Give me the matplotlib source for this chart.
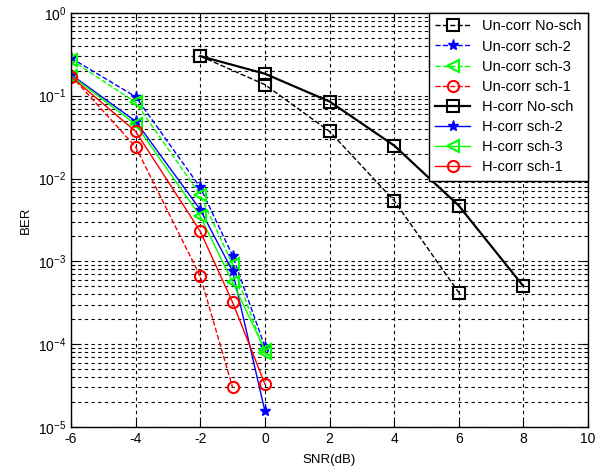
import numpy as np
import matplotlib.pyplot as plt
from matplotlib.ticker import LogLocator, LogFormatterMathtext, NullFormatter

plt.rcParams['font.family'] = 'Liberation Sans'
plt.rcParams['mathtext.default'] = 'regular'
plt.rcParams['axes.unicode_minus'] = False
plt.rcParams['font.size'] = 9.5

# SNR points
snr_sch = [-6, -4, -2, -1, 0]
snr_sch1 = [-6, -4, -2, -1]
snr_nosch_u = [-2, 0, 2, 4, 6]
snr_nosch_h = [-2, 0, 2, 4, 6, 8]

# uncorrelated channel BER
ber_u_nosch = [0.30, 0.136, 0.037, 0.0054, 4.2e-4]
ber_u_sch2 = [0.285, 0.097, 0.0078, 1.17e-3, 9.3e-5]
ber_u_sch3 = [0.27, 0.083, 0.0063, 9.2e-4, 7.8e-5]
ber_u_sch1 = [0.175, 0.024, 6.6e-4, 3.0e-5]

# H-correlated channel BER
ber_h_nosch = [0.30, 0.184, 0.085, 0.025, 0.0047, 5.0e-4]
ber_h_sch2 = [0.18, 0.049, 0.0042, 7.6e-4, 1.55e-5]
ber_h_sch3 = [0.175, 0.045, 0.0035, 5.6e-4, 8.5e-5]
ber_h_sch1 = [0.17, 0.037, 0.0023, 3.2e-4, 3.3e-5]

fig = plt.figure(figsize=(5.97, 4.76), dpi=100)
ax = fig.add_axes([0.119, 0.103, 0.866, 0.870])

green = '#00ff00'
mk = dict(markerfacecolor='none', markersize=8, markeredgewidth=1.5)
st = dict(markersize=8, markeredgewidth=1.0)

ax.semilogy(snr_nosch_u, ber_u_nosch, 'k--s', lw=1.0, label='Un-corr No-sch', **mk)
ax.semilogy(snr_sch, ber_u_sch2, 'b--*', lw=1.0, label='Un-corr sch-2', **st)
ax.semilogy(snr_sch, ber_u_sch3, '--<', color=green, lw=1.0, label='Un-corr sch-3', **mk)
ax.semilogy(snr_sch1, ber_u_sch1, 'r--o', lw=1.0, label='Un-corr sch-1', **mk)
ax.semilogy(snr_nosch_h, ber_h_nosch, 'k-s', lw=1.6, label='H-corr No-sch', **mk)
ax.semilogy(snr_sch, ber_h_sch2, 'b-*', lw=1.0, label='H-corr sch-2', **st)
ax.semilogy(snr_sch, ber_h_sch3, '-<', color=green, lw=1.0, label='H-corr sch-3', **mk)
ax.semilogy(snr_sch, ber_h_sch1, 'r-o', lw=1.0, label='H-corr sch-1', **mk)

ax.set_xlim(-6, 10)
ax.set_ylim(1e-5, 1)
ax.set_xticks(np.arange(-6, 11, 2))
ax.yaxis.set_major_locator(LogLocator(base=10, numticks=10))
ax.yaxis.set_major_formatter(LogFormatterMathtext())
ax.yaxis.set_minor_locator(LogLocator(base=10, subs=np.arange(2, 10), numticks=10))
ax.yaxis.set_minor_formatter(NullFormatter())

ax.grid(True, which='major', color='k', linestyle=(0, (3, 3)), lw=0.8)
ax.grid(True, which='minor', axis='y', color='k', linestyle=(0, (3, 3)), lw=0.8)
ax.tick_params(which='both', direction='in', top=True, right=True, colors='k')
ax.tick_params(which='major', length=5, labelsize=10)
ax.tick_params(which='minor', length=3)
for s in ax.spines.values():
    s.set_color('k')
    s.set_linewidth(1.0)

ax.set_xlabel('SNR(dB)', labelpad=6)
ax.set_ylabel('BER')

leg = ax.legend(loc='upper right', fancybox=False, framealpha=1, edgecolor='k',
                borderaxespad=0, handlelength=2.4, labelspacing=0.42, fontsize=10.5,
                borderpad=0.45, handletextpad=0.8)
leg.get_frame().set_linewidth(1.0)

fig.savefig('out.png', dpi=100)
